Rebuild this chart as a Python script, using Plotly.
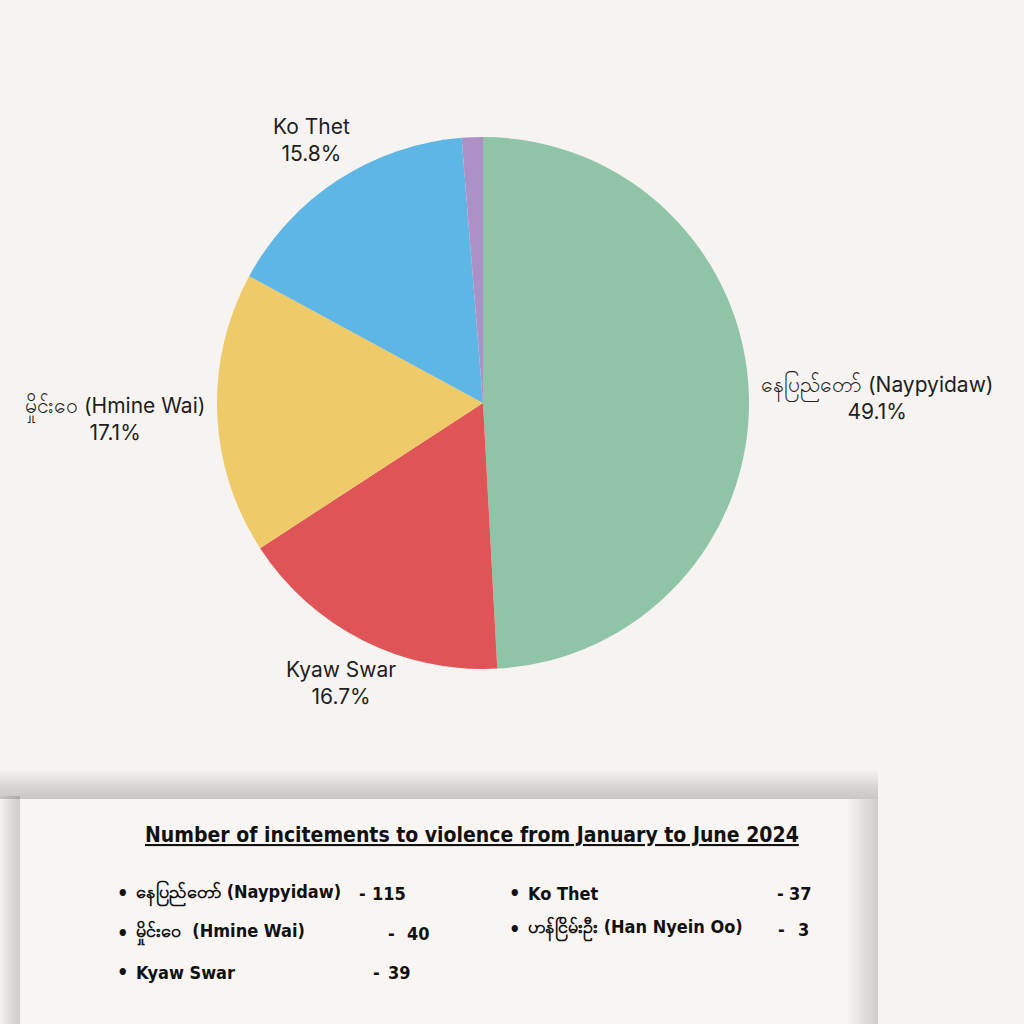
import math
import plotly.graph_objects as go

# ---- data ----
pie_labels = ["နေပြည်တော် (Naypyidaw)", "Kyaw Swar", "မှိုင်းဝေ (Hmine Wai)", "Ko Thet", "ဟန်ငြိမ်းဦး (Han Nyein Oo)"]
pie_values = [115, 39, 40, 37, 3]
pie_colors = ["#8fc4a6", "#df5457", "#efca69", "#5eb6e4", "#ab91c6"]
pie_show_label = [True, True, True, True, False]

legend_labels = ["နေပြည်တော် (Naypyidaw)", "မှိုင်းဝေ  (Hmine Wai)", "Kyaw Swar", "Ko Thet", "ဟန်ငြိမ်းဦး (Han Nyein Oo)"]
legend_values = [115, 40, 39, 37, 3]
title_text = "Number of incitements to violence from January to June 2024"

BG = "#f7f3f0"
W = H = 1024
CX, CY, R = 483, 403, 266  # pie centre / radius in pixels (layout)


def px(x):
    return x / W


def py(y):
    return 1 - y / H


fig = go.Figure()
fig.add_trace(go.Pie(
    labels=pie_labels,
    values=pie_values,
    marker=dict(colors=pie_colors, line=dict(width=0)),
    sort=False,
    direction="clockwise",
    rotation=0,
    textinfo="none",
    hoverinfo="label+value+percent",
    domain=dict(x=[px(CX - R), px(CX + R)], y=[py(CY + R), py(CY - R)]),
    showlegend=False,
))

annotations = []
LF = "Inter, Noto Sans, sans-serif"
total = sum(pie_values)
cum = 0
for lab, val, show in zip(pie_labels, pie_values, pie_show_label):
    mid = (cum + val / 2) / total * 2 * math.pi
    cum += val
    if not show:
        continue
    s, c = math.sin(mid), math.cos(mid)
    txt = f"{lab}<br>{val / total * 100:.1f}%"
    if abs(s) > 0.9:
        x = CX + (R + 10) * (1 if s > 0 else -1)
        y = CY - 1.18 * R * c + 3
        xa = "left" if s > 0 else "right"
    else:
        x = CX + 1.18 * R * s
        y = CY - 1.18 * R * c
        xa = "center"
    annotations.append(dict(x=px(x), y=py(y), xref="paper", yref="paper", text=txt,
                            showarrow=False, align="center", xanchor=xa, yanchor="middle",
                            font=dict(family=LF, size=21, color="#1e1e1e")))

shapes = []
SH = "rgba(90,80,70,0.022)"
for i in range(12):
    shapes.append(dict(type="rect", xref="paper", yref="paper", layer="below",
                       x0=px(0), x1=px(878), y0=py(799), y1=py(799 - (i + 1) * 2.4),
                       fillcolor=SH, line=dict(width=0)))
for i in range(10):
    shapes.append(dict(type="rect", xref="paper", yref="paper", layer="below",
                       x0=px(20 - (i + 1) * 2), x1=px(20), y0=py(1030), y1=py(796),
                       fillcolor=SH, line=dict(width=0)))
shapes.append(dict(type="rect", xref="paper", yref="paper", layer="below",
                   x0=px(20), x1=px(878), y0=py(1030), y1=py(799),
                   fillcolor="#f8f5f2", line=dict(width=0)))
for i in range(10):
    shapes.append(dict(type="rect", xref="paper", yref="paper", layer="below",
                       x0=px(878 - (i + 1) * 3), x1=px(878), y0=py(1030), y1=py(799),
                       fillcolor=SH, line=dict(width=0)))

TF = "DejaVu Sans Condensed, Noto Sans, sans-serif"
annotations.append(dict(x=px(472), y=py(835), xref="paper", yref="paper",
                        text=f"<b><u>{title_text}</u></b>", showarrow=False,
                        font=dict(family=TF, size=21, color="#111111"),
                        xanchor="center", yanchor="middle"))

# (bullet x, row y, dash x, number right edge)
rows = [(118, 893, 357, 408), (118, 933, 386, 432), (118, 972, 371, 413), (510, 893, 775, 814), (510, 929, 776, 811)]
for (bx, by, dx, nx), lab, val in zip(rows, legend_labels, legend_values):
    f = dict(family=TF, size=18, color="#111111")
    annotations.append(dict(x=px(bx - 3), y=py(by), xref="paper", yref="paper", text="<b>•</b>",
                            showarrow=False, font=dict(family=TF, size=20, color="#111111"),
                            xanchor="left", yanchor="middle"))
    annotations.append(dict(x=px(bx + 16), y=py(by), xref="paper", yref="paper", text=f"<b>{lab}</b>",
                            showarrow=False, font=f, xanchor="left", yanchor="middle"))
    annotations.append(dict(x=px(dx), y=py(by), xref="paper", yref="paper", text="<b>-</b>",
                            showarrow=False, font=f, xanchor="left", yanchor="middle"))
    annotations.append(dict(x=px(nx), y=py(by), xref="paper", yref="paper", text=f"<b>{val}</b>",
                            showarrow=False, font=f, xanchor="right", yanchor="middle"))

fig.update_layout(
    width=W, height=H,
    margin=dict(l=0, r=0, t=0, b=0),
    paper_bgcolor=BG, plot_bgcolor=BG,
    shapes=shapes, annotations=annotations,
    showlegend=False,
)

fig.write_html("out.html", config={"displayModeBar": False},
               post_script="document.body.style.margin='0';document.body.style.background='" + BG + "';")
